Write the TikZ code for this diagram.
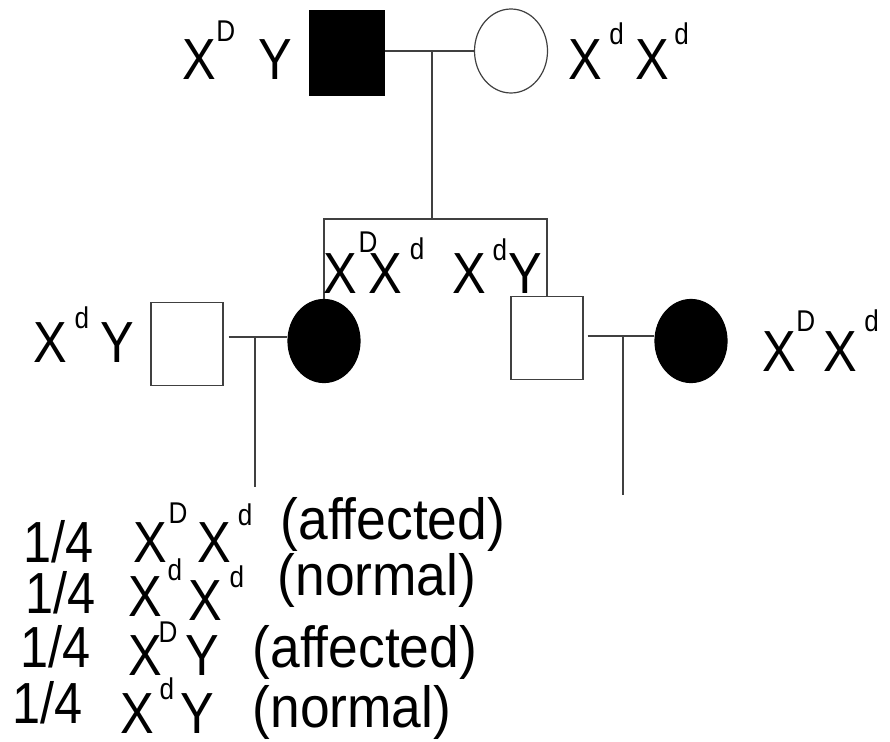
\documentclass[tikz,border=0pt]{standalone}
\usepackage{fontspec}
\setmainfont{Liberation Sans}[FakeStretch=0.87]
\newfontfamily\statfont{Liberation Sans}[FakeStretch=0.92]
\usepackage{tikz}
\usetikzlibrary{shapes.geometric}
\newcommand\al[2][38pt]{\raisebox{#1}{\fontsize{30}{30}\selectfont #2}}

\begin{document}
\begin{tikzpicture}[x=1pt, y=-1pt, line width=1.2pt]
    \tikzstyle{male}=[rectangle, draw=black!75, minimum width=72pt, minimum height=83pt, inner sep=0pt]
    \tikzstyle{female}=[ellipse, draw=black!75, minimum width=72pt, minimum height=83pt, inner sep=0pt]
    \tikzstyle{ill}=[fill=black, draw=black]
    \tikzstyle{lne}=[draw=black!75]
    \tikzstyle{gt}=[anchor=base west, inner sep=0pt, font=\fontsize{58}{58}\selectfont]
    \tikzstyle{st}=[anchor=base west, inner sep=0pt, font=\statfont\fontsize{58}{58}\selectfont]

    \useasboundingbox (0,0) rectangle (890,741);

    \node[male, ill, minimum width=74pt, minimum height=84pt] (f1) at (347,53) {};
    \node[female, minimum width=73pt, minimum height=84pt] (m1) at (511,51) {};
    \node[male] (h1) at (187,344) {};
    \node[female, ill] (d1) at (324,341) {};
    \node[male] (s1) at (547,338) {};
    \node[female, ill] (w1) at (691,341) {};

    \coordinate (mar1) at (432,51);
    \coordinate (sib) at (432,219);
    \coordinate (mar2) at (255,337);
    \coordinate (kid2) at (255,487);
    \coordinate (mar3) at (623,336);
    \coordinate (kid3) at (623,495);

    \draw[lne] (f1.east |- mar1) -- (m1.west |- mar1);
    \draw[lne] (mar1) -- (sib);
    \draw[lne] (d1.north) |- (sib) -| (s1.north);
    \draw[lne, shorten <=5pt] (h1.east |- mar2) -- (d1.west |- mar2);
    \draw[lne] (mar2) -- (kid2);
    \draw[lne, shorten <=4pt] (s1.east |- mar3) -- (w1.west |- mar3);
    \draw[lne] (mar3) -- (kid3);

    \node[gt] (p1) at (182,80) {X\al{D}\hspace{23pt}Y};
    \node[gt] (p2) at (568,80) {X\hspace{7pt}\al[35pt]{d}\hspace{11.5pt}X\hspace{5.5pt}\al[35pt]{d}};
    \node[gt] (p3) at (33,362) {X\hspace{7.4pt}\al[34pt]{d}\hspace{11.5pt}Y};
    \node[gt] (p4) at (323,293) {X\hspace{1.4pt}\al[41pt]{D}\hspace{-8.8pt}X\hspace{7.4pt}\al[34pt]{d}};
    \node[gt] (p5) at (452,293) {X\hspace{6.4pt}\al[33pt]{d}\hspace{1.5pt}Y};
    \node[gt] (p6) at (762,371) {X\al[40pt]{D}\hspace{8.2pt}X\hspace{7.4pt}\al[40pt]{d}};

    \node[gt] (r1) at (22.5,562) {1/4};
    \node[gt] (g1) at (133,562) {X\hspace{1.4pt}\al[39pt]{D}\hspace{10.2pt}X\hspace{6.4pt}\al[37pt]{d}};
    \node[st] (a1) at (280,539) {(affected)};
    \node[gt] (r2) at (24.5,613) {1/4};
    \node[gt] (g2) at (128,616) {X\hspace{5.4pt}\al[36pt]{d}\hspace{6.5pt}\raisebox{-4pt}{X}\hspace{7.4pt}\al[29pt]{d}};
    \node[st] (a2) at (277,595) {(normal)};
    \node[gt] (r3) at (19.5,667) {1/4};
    \node[gt] (g3) at (128,675) {X\hspace{-3.6pt}\al[33pt]{D}\hspace{8.2pt}Y};
    \node[st] (a3) at (252,667) {(affected)};
    \node[gt] (r4) at (11.5,723) {1/4};
    \node[gt] (g4) at (120,733) {X\hspace{5.4pt}\al[34pt]{d}\hspace{6.5pt}Y};
    \node[st] (a4) at (252,727) {(normal)};
\end{tikzpicture}
\end{document}
